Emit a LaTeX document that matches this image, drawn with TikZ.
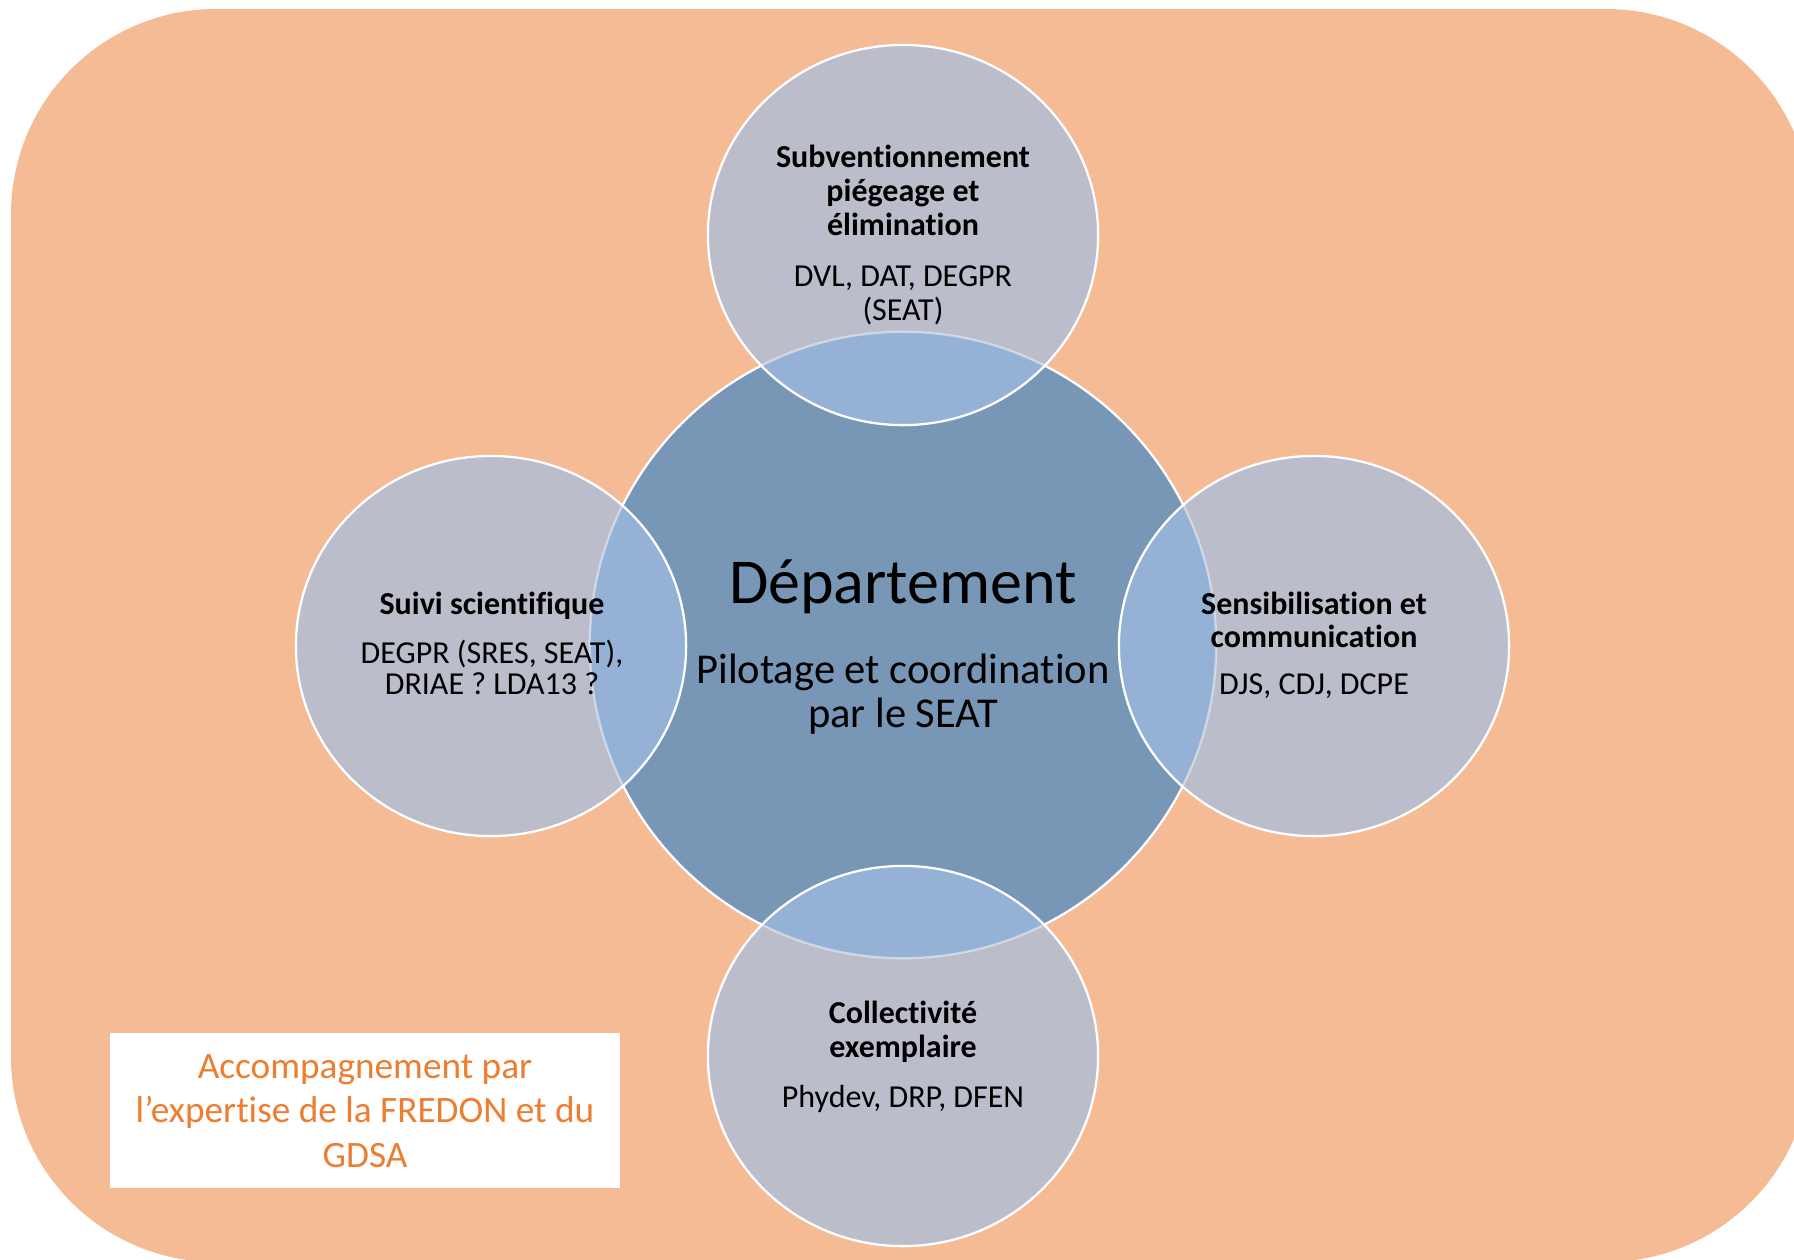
\documentclass[tikz,border=0pt]{standalone}
\usepackage{fontspec}
\setmainfont{Carlito}[Ligatures=NoCommon]
\usetikzlibrary{shapes.geometric}
\definecolor{peach}{HTML}{F4BB95}
\definecolor{satfill}{HTML}{BCBDCB}
\definecolor{centfill}{HTML}{7896B5}
\definecolor{overlapfill}{HTML}{95B1D6}
\definecolor{orangetxt}{HTML}{ED7D31}
\begin{document}
\begin{tikzpicture}[x=0.01cm, y=-0.01cm,
  satnode/.style={ellipse, minimum width=3.9cm, minimum height=3.8cm, inner sep=0pt, fill=satfill},
  ringline/.style={draw=white, line width=0.65pt},
  ttl/.style={font=\fontsize{9.1}{10}\selectfont\bfseries, anchor=base, inner sep=0pt},
  sub/.style={font=\fontsize{9.1}{10}\selectfont, anchor=base, inner sep=0pt},
  bigttl/.style={font=\fontsize{18.2}{20}\selectfont, anchor=base, inner sep=0pt},
  bigsub/.style={font=\fontsize{12.1}{14}\selectfont, anchor=base, inner sep=0pt},
  orangeline/.style={font=\fontsize{10.6}{12}\selectfont, text=orangetxt, anchor=base, inner sep=0pt}]
\useasboundingbox (0,0) rectangle (1794,1259);
\clip (0,0) rectangle (1794,1259);
% background
\fill[peach, rounded corners=2.05cm] (11,9) rectangle (1811,1262);
% central circle
\node[circle, minimum size=6.26cm, inner sep=0pt, fill=centfill, ringline] (dept) at (903,645) {};
% satellites
\node[satnode] (sTop) at (903,235) {};
\node[satnode] (sLeft) at (491,646) {};
\node[satnode] (sRight) at (1314,646) {};
\node[satnode] (sBottom) at (903,1056) {};
% overlaps
\foreach \s in {sTop,sLeft,sRight,sBottom} {
  \begin{scope}
    \clip (\s.center) ellipse [x radius=1.95cm, y radius=1.9cm];
    \fill[overlapfill] (dept.center) circle [radius=3.13cm];
    \draw[white, opacity=0.45, line width=0.65pt] (dept.center) circle [radius=3.13cm];
  \end{scope}
  \draw[white, line width=0.65pt] (\s.center) ellipse [x radius=1.95cm, y radius=1.9cm];
}
% central text
\node[bigttl] (tDept) at (903,603) {Département};
\node[bigsub] (tPil1) at (903,683) {Pilotage et coordination};
\node[bigsub] (tPil2) at (903,727) {par le SEAT};
% top
\node[ttl] (tT1) at (903,167) {Subventionnement};
\node[ttl] (tT2) at (903,201) {piégeage et};
\node[ttl] (tT3) at (903,235) {élimination};
\node[sub] (tT4) at (903,286) {DVL, DAT, DEGPR};
\node[sub] (tT5) at (903,320) {(SEAT)};
% left
\node[ttl] (tL1) at (492,614) {Suivi scientifique};
\node[sub] (tL2) at (492,663) {DEGPR (SRES, SEAT),};
\node[sub] (tL3) at (492,694) {DRIAE ? LDA13 ?};
% right
\node[ttl] (tR1) at (1314,614) {Sensibilisation et};
\node[ttl] (tR2) at (1314,647) {communication};
\node[sub] (tR3) at (1314,694) {DJS, CDJ, DCPE};
% bottom
\node[ttl] (tB1) at (903,1023) {Collectivité};
\node[ttl] (tB2) at (903,1057) {exemplaire};
\node[sub] (tB3) at (903,1107) {Phydev, DRP, DFEN};
% expertise box
\node[fill=white, minimum width=5.1cm, minimum height=1.55cm, inner sep=0pt] (box) at (365,1110.5) {};
\node[orangeline] (tO1) at (365,1078) {Accompagnement par};
\node[orangeline] (tO2) at (365,1122) {l’expertise de la FREDON et du};
\node[orangeline] (tO3) at (365,1167) {GDSA};
\end{tikzpicture}
\end{document}
